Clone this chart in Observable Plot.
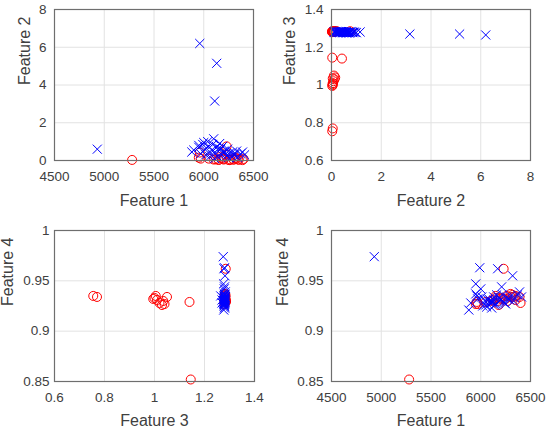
<!DOCTYPE html>
<html>
<head>
<meta charset="utf-8">
<script src="https://cdn.jsdelivr.net/npm/d3@7"></script>
<script src="https://cdn.jsdelivr.net/npm/@observablehq/plot@0.6"></script>
<style>
  html, body { margin: 0; padding: 0; background: #fff; }
  #chart { position: relative; width: 547px; height: 430px; overflow: hidden; }
  #chart > svg { position: absolute; }
</style>
</head>
<body>
<div id="chart"></div>
<script>
// Feature names
const featureNames = ["Feature 1", "Feature 2", "Feature 3", "Feature 4"];

// Class A (red circles): four features per sample
const redF1 = [5280, 5960, 6150, 6300, 6200, 6350, 6120, 6250, 6400, 6180, 5950, 6330, 6270,
               6230, 5970, 6300, 6390, 6100, 6200, 6260, 6050, 6350, 6150, 6320, 6170];
const redF2 = [0.03, 0.42, 0.03, 0.05, 0.05, 0.04, 0.06, 0.03, 0.08, 0.12, 0.15, 0.10, 0.05,
               0.75, 0.10, 0.05, 0.02, 0.05, 0.08, 0.02, 0.10, 0.05, 0.04, 0.15, 0.20];
const redF3 = [1.145, 1.140, 0.755, 0.770, 1.000, 1.005, 1.010, 0.995, 1.020, 1.030, 1.040, 1.050, 1.035,
               1.285, 1.280, 1.282, 1.284, 1.280, 1.283, 1.281, 1.286, 1.285, 1.282, 1.284, 1.286];
const redF4 = [0.852, 0.929, 0.935, 0.934, 0.933, 0.935, 0.931, 0.932, 0.928, 0.926, 0.927, 0.934, 0.930,
               0.962, 0.927, 0.937, 0.934, 0.930, 0.932, 0.935, 0.929, 0.931, 0.933, 0.936, 0.930];

// Class B (blue crosses): four features per sample
const blueF1 = [4930, 5960, 6130, 6110, 5990, 6170, 6320, 5950, 6210, 6000, 5950, 6390, 5880, 5900, 6100,
                6050, 6080, 6120, 6150, 6180, 6200, 6230, 6260, 6280, 6300, 6340, 6370, 6020, 6060, 6090,
                6140, 6040, 6010, 6160, 6190, 6240, 6110, 6070, 6330, 6250, 5970, 6130, 6220, 6290, 6410];
const blueF2 = [0.60, 6.20, 5.15, 3.15, 0.85, 0.60, 0.35, 0.70, 0.45, 0.95, 0.80, 0.45, 0.45, 0.55, 1.15,
                0.75, 0.55, 0.40, 0.65, 0.30, 0.50, 0.25, 0.40, 0.20, 0.30, 0.15, 0.35, 0.30, 0.20, 0.85,
                0.20, 1.00, 0.60, 0.90, 0.75, 0.60, 0.10, 0.40, 0.50, 0.15, 0.35, 0.70, 0.35, 0.45, 0.30];
const blueF3 = [1.275, 1.265, 1.270, 1.270, 1.280, 1.278, 1.282, 1.276, 1.280, 1.279, 1.281, 1.283, 1.277, 1.278, 1.281,
                1.279, 1.280, 1.282, 1.278, 1.281, 1.279, 1.280, 1.283, 1.281, 1.279, 1.282, 1.280, 1.279, 1.281, 1.278,
                1.280, 1.277, 1.282, 1.280, 1.279, 1.281, 1.280, 1.283, 1.278, 1.280, 1.279, 1.281, 1.282, 1.280, 1.280];
const blueF4 = [0.974, 0.935, 0.931, 0.928, 0.963, 0.962, 0.955, 0.947, 0.944, 0.942, 0.937, 0.939, 0.921, 0.928, 0.930,
                0.926, 0.932, 0.929, 0.927, 0.933, 0.931, 0.929, 0.934, 0.932, 0.935, 0.933, 0.936, 0.925, 0.924, 0.928,
                0.926, 0.930, 0.934, 0.936, 0.930, 0.928, 0.923, 0.931, 0.930, 0.927, 0.932, 0.934, 0.936, 0.931, 0.934];

// Tick values per feature
const ticksF1 = [4500, 5000, 5500, 6000, 6500];
const ticksF2 = [0, 2, 4, 6, 8];
const ticksF3 = [0.6, 0.8, 1, 1.2, 1.4];
const ticksF4 = [0.85, 0.9, 0.95, 1];

const redRows = redF1.map((_, i) => [redF1[i], redF2[i], redF3[i], redF4[i]]);
const blueRows = blueF1.map((_, i) => [blueF1[i], blueF2[i], blueF3[i], blueF4[i]]);

const domains = [[4500, 6500], [0, 8], [0.6, 1.4], [0.85, 1]];
const tickSets = [ticksF1, ticksF2, ticksF3, ticksF4];
const fmt = d => String(+d.toFixed(2));

// Panel layout: which features go on x / y, and where each panel sits
const panels = [
  {xi: 0, yi: 1, left: 0,   top: 0,   width: 270, height: 215, m: [9, 17, 55, 54],  ylDx: -36, xlDy: 45, yPad: 8, xPad: 11},
  {xi: 1, yi: 2, left: 270, top: 0,   width: 277, height: 215, m: [9, 17, 55, 61],  ylDx: -48, xlDy: 45, yPad: 8, xPad: 11},
  {xi: 2, yi: 3, left: 0,   top: 215, width: 270, height: 215, m: [15, 16, 49, 54], ylDx: -53, xlDy: 44, yPad: 5, xPad: 11},
  {xi: 0, yi: 3, left: 270, top: 215, width: 277, height: 215, m: [15, 17, 49, 61], ylDx: -55, xlDy: 44, yPad: 8, xPad: 11}
];

const chart = document.getElementById("chart");
const axisColor = "#404040";
const font = "'Liberation Sans', Arial, Helvetica, sans-serif";

for (const p of panels) {
  const [mt, mr, mb, ml] = p.m;
  const svg = Plot.plot({
    width: p.width,
    height: p.height,
    marginTop: mt, marginRight: mr, marginBottom: mb, marginLeft: ml,
    style: {fontFamily: font, fontSize: "13.5px", background: "#fff", overflow: "visible"},
    x: {domain: domains[p.xi], axis: null},
    y: {domain: domains[p.yi], axis: null},
    marks: [
      Plot.gridX(tickSets[p.xi], {stroke: "#e2e2e2", strokeOpacity: 1}),
      Plot.gridY(tickSets[p.yi], {stroke: "#e2e2e2", strokeOpacity: 1}),
      Plot.axisX(tickSets[p.xi], {anchor: "bottom", tickSize: 0, tickPadding: p.xPad, tickFormat: fmt, label: null, fill: axisColor, fontSize: 13.5}),
      Plot.axisY(tickSets[p.yi], {anchor: "left", tickSize: 0, tickPadding: p.yPad, tickFormat: fmt, label: null, fill: axisColor, fontSize: 13.5}),
      Plot.text([featureNames[p.xi]], {frameAnchor: "bottom", dy: p.xlDy, lineAnchor: "bottom", fill: axisColor, fontSize: 16}),
      Plot.text([featureNames[p.yi]], {frameAnchor: "left", rotate: -90, dx: p.ylDx, lineAnchor: "top", fill: axisColor, fontSize: 16}),
      Plot.dot(redRows, {x: d => d[p.xi], y: d => d[p.yi], r: 4.5, stroke: "#ff0000", strokeWidth: 1, fill: "none"}),
      Plot.dot(blueRows, {x: d => d[p.xi], y: d => d[p.yi], symbol: "times", r: 4.2, stroke: "#0000ff", strokeWidth: 1}),
      Plot.frame({stroke: "#6e6e6e", strokeWidth: 1.2})
    ]
  });
  svg.style.left = p.left + "px";
  svg.style.top = p.top + "px";
  chart.appendChild(svg);
}
</script>
</body>
</html>
